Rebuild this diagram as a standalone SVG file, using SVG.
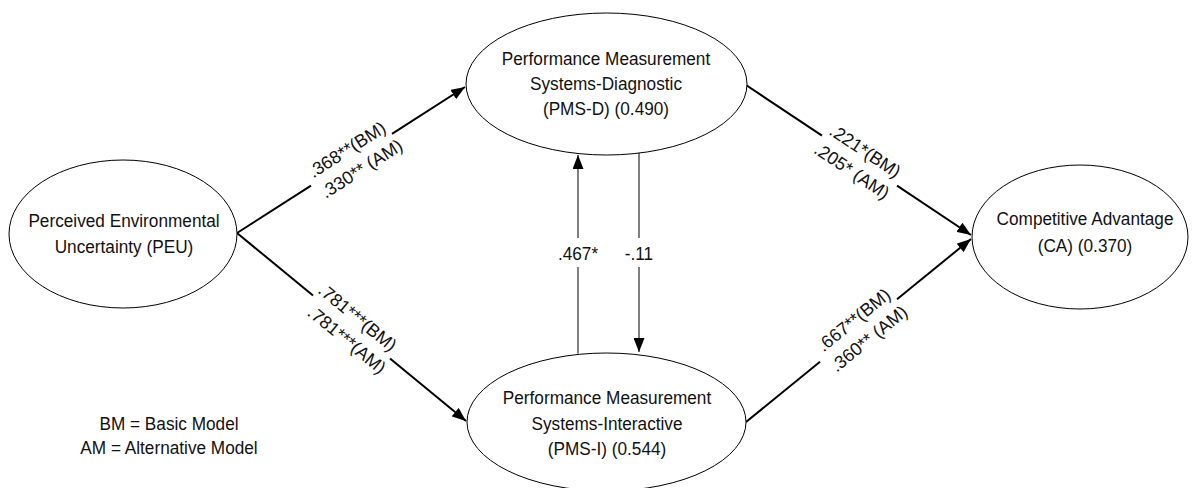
<svg xmlns="http://www.w3.org/2000/svg" width="1192" height="488" viewBox="0 0 1192 488">
<style>
.node ellipse{fill:#fff;stroke:#000;stroke-width:1}
text{font-family:"Liberation Sans",Arial,sans-serif;fill:#111}
.nt{font-size:18.5px;text-anchor:middle}
.lb{font-size:18px;text-anchor:middle}
.vl{font-size:18.5px;text-anchor:middle}
.thick{stroke:#000;stroke-width:2;fill:none}
.thin{stroke:#000;stroke-width:1;fill:none}
</style>
<defs>
<marker id="ah" viewBox="0 0 14 11" refX="14" refY="5.5" markerWidth="14" markerHeight="11" markerUnits="userSpaceOnUse" orient="auto">
<path d="M0,0 L14,5.5 L0,11 z" fill="#000"/>
</marker>
</defs>
<rect width="1192" height="488" fill="#fff"/>
<g id="connectors">
<line class="thick" x1="237" y1="233" x2="311" y2="185.6"/>
<line class="thick" x1="392" y1="133.8" x2="465" y2="87" marker-end="url(#ah)"/>
<g transform="translate(353,159) rotate(-32.6)">
<text class="lb" x="0" y="-5">.368**(BM)</text>
<text class="lb" x="2" y="19">.330** (AM)</text>
</g>
<line class="thick" x1="237" y1="233" x2="313" y2="295.4"/>
<line class="thick" x1="390" y1="358.6" x2="466" y2="421" marker-end="url(#ah)"/>
<g transform="translate(352,327.4) rotate(39.4)">
<text class="lb" x="-2" y="-5">.781***(BM)</text>
<text class="lb" x="4" y="19">.781***(AM)</text>
</g>
<line class="thick" x1="746" y1="85" x2="822" y2="135.7"/>
<line class="thick" x1="897" y1="185.7" x2="971" y2="235" marker-end="url(#ah)"/>
<g transform="translate(859,160.3) rotate(33.7)">
<text class="lb" x="0" y="-5">.221*(BM)</text>
<text class="lb" x="0" y="19">.205* (AM)</text>
</g>
<line class="thick" x1="746" y1="422" x2="820" y2="361.8"/>
<line class="thick" x1="897" y1="299.2" x2="971" y2="239" marker-end="url(#ah)"/>
<g transform="translate(860.8,328.7) rotate(-39.1)">
<text class="lb" x="0" y="-5">.667**(BM)</text>
<text class="lb" x="0" y="19">.360** (AM)</text>
</g>
<line class="thin" x1="578" y1="353.5" x2="578" y2="267"/>
<line class="thin" x1="578" y1="238" x2="578" y2="155" marker-end="url(#ah)"/>
<g transform="translate(578,260) scale(0.93,1)"><text class="vl">.467*</text></g>
<line class="thin" x1="639" y1="153" x2="639" y2="238"/>
<line class="thin" x1="639" y1="267" x2="639" y2="352" marker-end="url(#ah)"/>
<g transform="translate(639,260) scale(0.93,1)"><text class="vl">-.11</text></g>
</g>
<g id="PEU" class="node">
<ellipse cx="123" cy="234" rx="114" ry="74"/>
<g transform="translate(124,0) scale(0.93,1)">
<text class="nt" x="0" y="227">Perceived Environmental</text>
<text class="nt" x="0" y="253">Uncertainty (PEU)</text>
</g>
</g>
<g id="PMS-D" class="node">
<ellipse cx="606.5" cy="84" rx="140.5" ry="71"/>
<g transform="translate(606,0) scale(0.93,1)">
<text class="nt" x="0" y="65">Performance Measurement</text>
<text class="nt" x="0" y="90.5">Systems-Diagnostic</text>
<text class="nt" x="0" y="115.5">(PMS-D) (0.490)</text>
</g>
</g>
<g id="PMS-I" class="node">
<ellipse cx="606.5" cy="422" rx="139.5" ry="69"/>
<g transform="translate(607,0) scale(0.93,1)">
<text class="nt" x="0" y="404">Performance Measurement</text>
<text class="nt" x="0" y="430">Systems-Interactive</text>
<text class="nt" x="0" y="455">(PMS-I) (0.544)</text>
</g>
</g>
<g id="CA" class="node">
<ellipse cx="1080" cy="237" rx="108" ry="72"/>
<g transform="translate(1085,0) scale(0.93,1)">
<text class="nt" x="0" y="225">Competitive Advantage</text>
<text class="nt" x="0" y="252">(CA) (0.370)</text>
</g>
</g>
<g id="legend" transform="translate(169,0) scale(0.93,1)">
<text class="nt" x="0" y="430">BM = Basic Model</text>
<text class="nt" x="0" y="454">AM = Alternative Model</text>
</g>
</svg>
